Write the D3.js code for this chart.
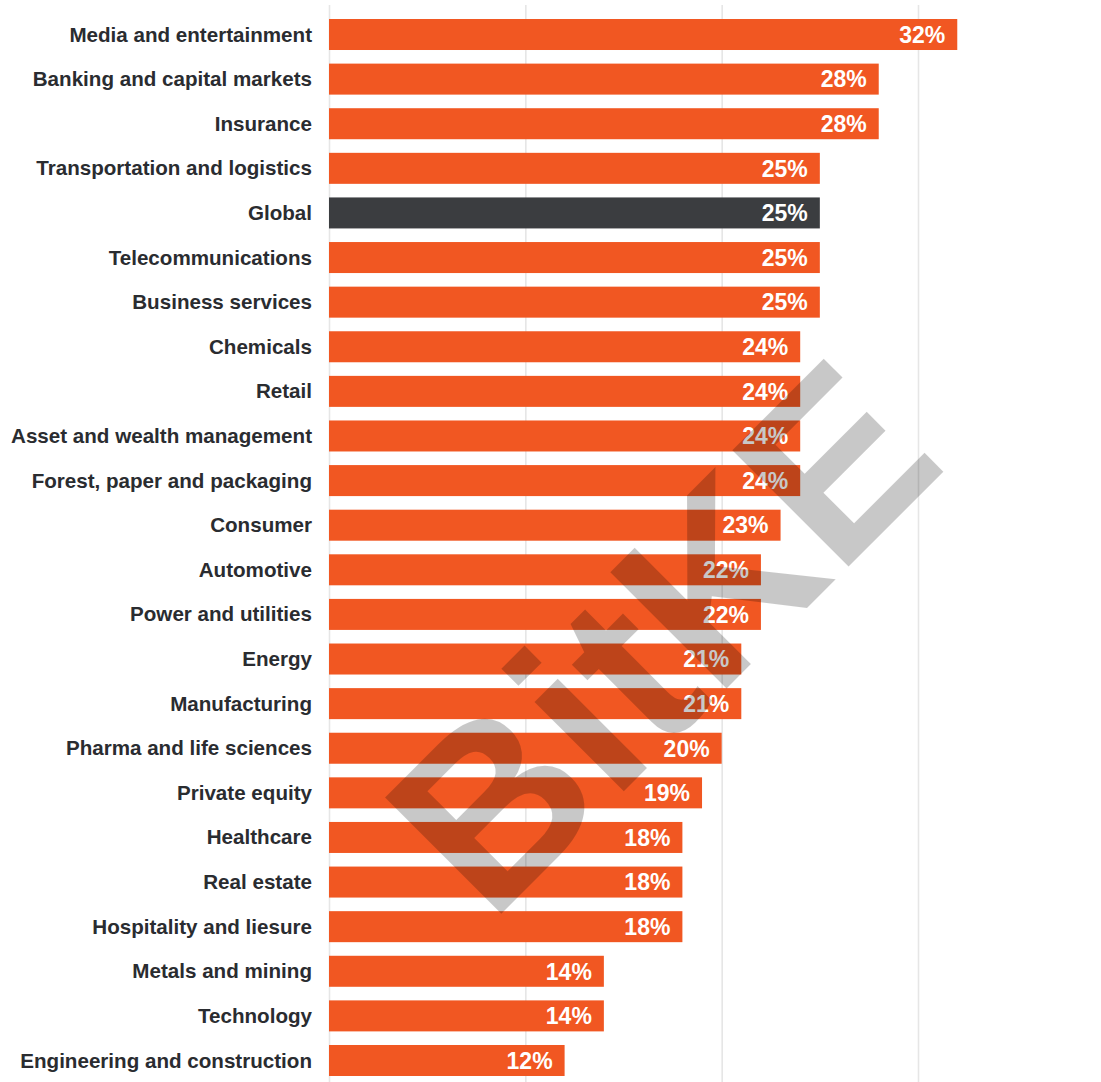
<!DOCTYPE html>
<html>
<head>
<meta charset="utf-8">
<script src="https://cdn.jsdelivr.net/npm/d3@7"></script>
<style>
  html, body { margin: 0; padding: 0; background: #fff; }
  svg { display: block; }
</style>
</head>
<body>
<svg id="chart" width="1101" height="1082"></svg>
<script>
// Share of respondents by industry
const categories = [
  "Media and entertainment",
  "Banking and capital markets",
  "Insurance",
  "Transportation and logistics",
  "Global",
  "Telecommunications",
  "Business services",
  "Chemicals",
  "Retail",
  "Asset and wealth management",
  "Forest, paper and packaging",
  "Consumer",
  "Automotive",
  "Power and utilities",
  "Energy",
  "Manufacturing",
  "Pharma and life sciences",
  "Private equity",
  "Healthcare",
  "Real estate",
  "Hospitality and liesure",
  "Metals and mining",
  "Technology",
  "Engineering and construction"
];
const values = [32, 28, 28, 25, 25, 25, 25, 24, 24, 24, 24, 23, 22, 22, 21, 21, 20, 19, 18, 18, 18, 14, 14, 12];
const highlighted = ["Global"];
const gridTicks = [0, 10, 20, 30];
const watermarkText = "BitKE";

const W = 1101, H = 1082;
const svg = d3.select("#chart");

const data = categories.map((c, i) => ({ name: c, value: values[i] }));

const x = d3.scaleLinear().domain([0, 30]).range([329, 918]);
const y = d3.scaleBand()
  .domain(categories)
  .range([12.2, 1082.8])
  .paddingInner(0.305)
  .paddingOuter(0.1525);

// vertical gridlines
const grid = svg.append("g")
  .attr("transform", "translate(0,5)")
  .call(d3.axisTop(x).tickValues(gridTicks).tickSize(-(H - 5)).tickFormat(""));
grid.select(".domain").remove();
grid.selectAll(".tick line").attr("stroke", "#e6e6e6").attr("stroke-width", 1.6);

// bars
svg.append("g").selectAll("rect")
  .data(data)
  .join("rect")
  .attr("x", x(0))
  .attr("y", d => y(d.name))
  .attr("width", d => x(d.value) - x(0))
  .attr("height", y.bandwidth())
  .attr("fill", d => highlighted.includes(d.name) ? "#3b3d40" : "#f15722");

// value labels inside bar ends
svg.append("g").selectAll("text")
  .data(data)
  .join("text")
  .attr("x", d => x(d.value) - 12)
  .attr("y", d => y(d.name) + y.bandwidth() / 2)
  .attr("dy", "0.36em")
  .attr("text-anchor", "end")
  .attr("fill", "#fff")
  .style("font-family", "'Liberation Sans', Arial, Helvetica, sans-serif")
  .style("font-weight", "bold")
  .style("font-size", "23px")
  .text(d => d.value + "%");

// category labels
const yAxis = svg.append("g")
  .attr("transform", `translate(${x(0)},0)`)
  .call(d3.axisLeft(y).tickSize(0).tickPadding(17));
yAxis.select(".domain").remove();
yAxis.selectAll(".tick text")
  .attr("fill", "#2a2c30")
  .attr("dy", "0.34em")
  .style("font-family", "'Liberation Sans', Arial, Helvetica, sans-serif")
  .style("font-weight", "bold")
  .style("font-size", "20.6px");

// diagonal watermark
svg.append("text")
  .attr("transform", "translate(490,925) rotate(-45)")
  .attr("fill", "#000")
  .attr("fill-opacity", 0.215)
  .style("font-family", "'Liberation Sans', Arial, Helvetica, sans-serif")
  .style("font-weight", "bold")
  .style("font-size", "239px")
  .text(watermarkText);
</script>
</body>
</html>
